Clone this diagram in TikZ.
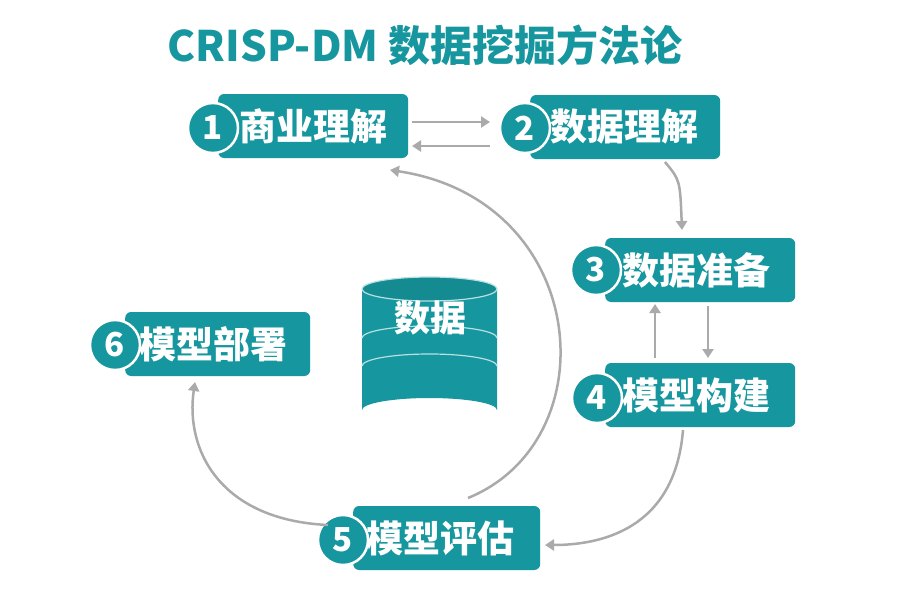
\documentclass[tikz,border=0pt]{standalone}
\usepackage{fontspec}
\newfontfamily\cjk{Noto Sans CJK SC}
\usetikzlibrary{arrows.meta}
\definecolor{teal1}{RGB}{22,150,158}
\definecolor{arr}{RGB}{170,170,170}
\begin{document}
\begin{tikzpicture}[x=1pt,y=-1pt,
 box/.style={fill=teal1,rounded corners=6pt,minimum height=64pt,inner xsep=0pt,inner ysep=0pt,text=white,font=\cjk\bfseries\fontsize{37}{37}\selectfont,anchor=west,align=left},
 num/.style={circle,fill=teal1,draw=white,line width=2.5pt,minimum size=50pt,inner sep=0pt,text=white,font=\cjk\bfseries\fontsize{33}{33}\selectfont},
 ar/.style={draw=arr,line width=2.5pt,-{Triangle[length=9pt,width=11pt]}}]
\useasboundingbox (0,0) rectangle (908,597);
\fill[white] (0,0) rectangle (908,597);
\node[font=\cjk\bfseries\fontsize{42}{42}\selectfont,text=teal1] (title) at (425,45) {CRISP-DM 数据挖掘方法论};
\node[box,text width=190pt] (b1) at (218,126) {\hspace{21pt}商业理解};
\node[num] (c1) at (213,128) {1};
\node[box,text width=190pt] (b2) at (530,127) {\hspace{20pt}数据理解};
\node[num] (c2) at (525,128) {2};
\node[box,text width=190pt] (b3) at (605,270) {\hspace{17pt}数据准备};
\node[num] (c3) at (596,270) {3};
\node[box,text width=190pt] (b4) at (605,395) {\hspace{17pt}模型构建};
\node[num] (c4) at (597,398) {4};
\node[box,text width=187pt] (b5) at (353,538) {\hspace{13pt}模型评估};
\node[num] (c5) at (343,540) {5};
\node[box,text width=185pt] (b6) at (125,344) {\hspace{14pt}模型部署};
\node[num] (c6) at (115,345) {6};
% cylinder
\fill[teal1] (362,289) -- (362,410) arc[start angle=180,end angle=360,x radius=67.5,y radius=12] -- (497,289) arc[start angle=0,end angle=180,x radius=67.5,y radius=12] -- cycle;
\fill[teal1!92!black] (429.5,289) ellipse[x radius=67.5,y radius=12];
\draw[white!70!teal1,line width=1.2pt] (429.5,289) ellipse[x radius=67.5,y radius=12];
\draw[white!70!teal1,line width=1.2pt] (362,338) arc[start angle=180,end angle=360,x radius=67.5,y radius=12];
\draw[white!70!teal1,line width=1.2pt] (362,366) arc[start angle=180,end angle=360,x radius=67.5,y radius=12];
\node[text=white,font=\cjk\bfseries\fontsize{36}{36}\selectfont] (db) at (430,318) {数据};
% arrows
\coordinate (p1) at (412,122); \coordinate (p2) at (490,122);
\coordinate (p3) at (490,146); \coordinate (p4) at (412,146);
\draw[ar] (p1) -- (p2);
\draw[ar] (p3) -- (p4);
\coordinate (q1) at (665,162); \coordinate (q2) at (682,230);
\draw[ar] (q1) .. controls (680,180) .. (q2);
\coordinate (r1) at (708,306); \coordinate (r2) at (708,358);
\draw[ar] (r1) -- (r2);
\coordinate (r3) at (655,358); \coordinate (r4) at (655,304);
\draw[ar] (r3) -- (r4);
\coordinate (s1) at (683,430); \coordinate (s2) at (545,545);
\draw[ar] (s1) .. controls (675,530) and (600,545) .. (s2);
\coordinate (t1) at (328,525); \coordinate (t2) at (195,382);
\draw[ar] (t1) .. controls (220,520) and (185,450) .. (t2);
\coordinate (u1) at (468,498); \coordinate (u2) at (390,170);
\draw[ar] (u1) .. controls (610,440) and (590,200) .. (u2);
\end{tikzpicture}
\end{document}
